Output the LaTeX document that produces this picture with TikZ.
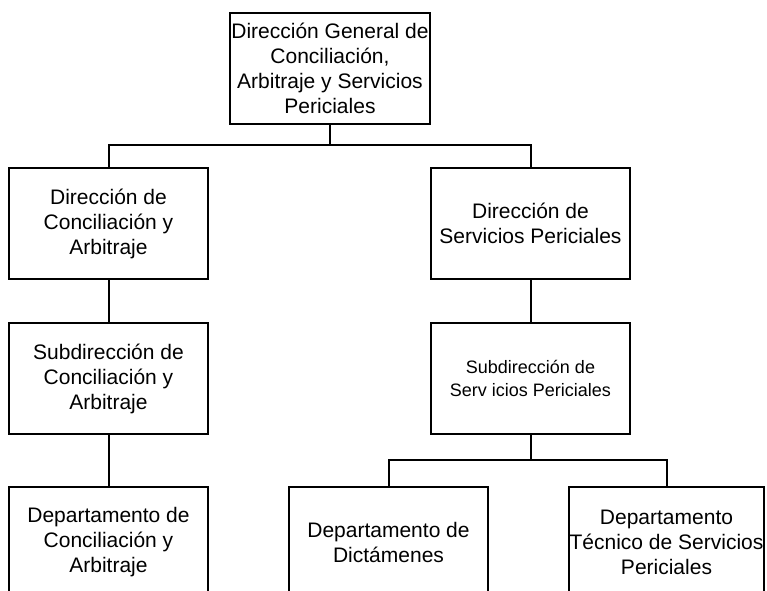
\documentclass[tikz,border=0pt]{standalone}
\usepackage{fontspec}
\setmainfont{Liberation Sans}
\begin{document}
\begin{tikzpicture}[x=1pt,y=-1pt,
  box/.style={draw=black, line width=2pt, rectangle, align=center, inner sep=0pt,
    minimum width=199pt, minimum height=111pt, font=\fontsize{21}{25}\selectfont},
  smalltext/.style={font=\fontsize{18}{23.5}\selectfont},
  link/.style={draw=black, line width=2pt}]
\useasboundingbox (0,0) rectangle (767,590);
\clip (0,0) rectangle (767,590);
\node[box, minimum width=200pt] (top) at (330,68.5) {Dirección General de\\Conciliación,\\Arbitraje y Servicios\\Periciales};
\node[box] (dca) at (108.5,223.5) {Dirección de\\Conciliación y\\Arbitraje};
\node[box] (dsp) at (530.5,223.5) {Dirección de\\Servicios Periciales};
\node[box] (sca) at (108.5,378.5) {Subdirección de\\Conciliación y\\Arbitraje};
\node[box, smalltext] (ssp) at (530.5,378.5) {Subdirección de\\Serv icios Periciales};
\node[box] (depca) at (108.5,542.5) {Departamento de\\Conciliación y\\Arbitraje};
\node[box] (depd) at (388.5,542.5) {Departamento de\\Dictámenes};
\node[box, minimum width=195pt] (dept) at (666.5,542.5) {Departamento\\Técnico de Servicios\\Periciales};
\coordinate (bus1) at (330,145);
\coordinate (bus2) at (530.5,460);
\draw[link] (top.south) -- (bus1);
\draw[link] (dca.north) |- (bus1) -| (dsp.north);
\draw[link] (dca.south) -- (sca.north);
\draw[link] (sca.south) -- (depca.north);
\draw[link] (dsp.south) -- (ssp.north);
\draw[link] (ssp.south) -- (bus2);
\draw[link] (depd.north) |- (bus2) -| (dept.north);
\end{tikzpicture}
\end{document}
